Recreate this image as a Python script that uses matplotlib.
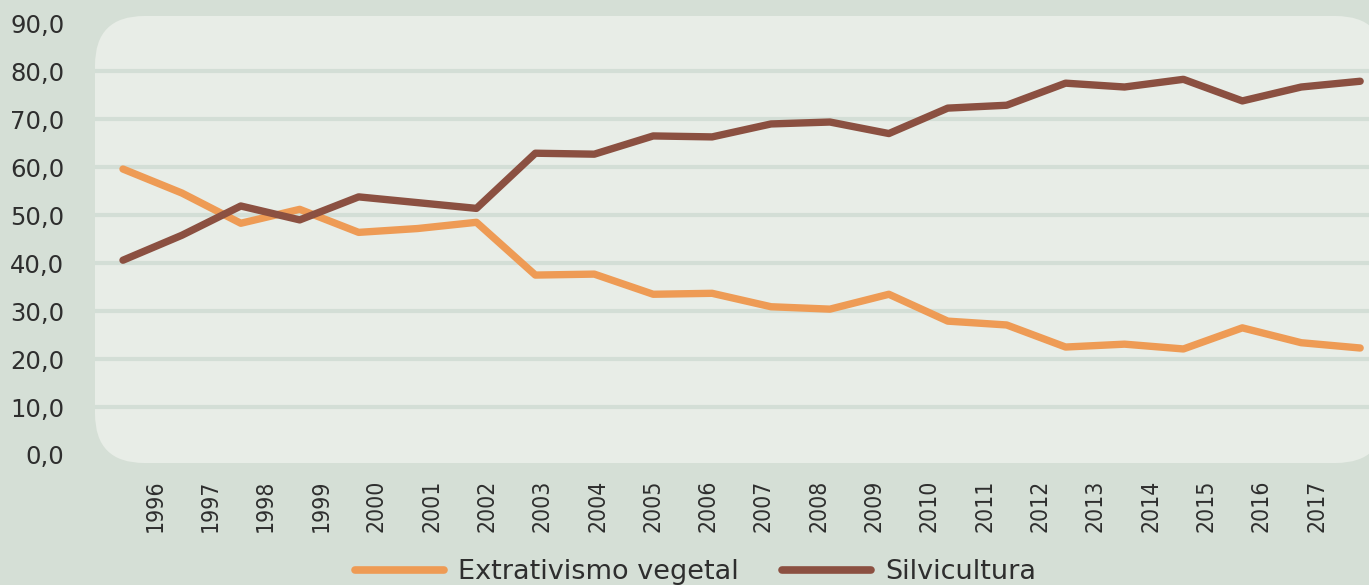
import numpy as np
import matplotlib
matplotlib.use("Agg")
import matplotlib.pyplot as plt
from matplotlib import font_manager
from matplotlib.patches import FancyBboxPatch
from matplotlib.lines import Line2D

# shares (%)
anos = [str(a) for a in range(1996, 2018)]
extrativismo = [59.6, 54.6, 48.3, 51.2, 46.4, 47.2, 48.5, 37.5, 37.7, 33.5, 33.7,
                30.9, 30.4, 33.5, 27.9, 27.1, 22.5, 23.1, 22.1, 26.5, 23.4, 22.3]
silvicultura = [40.6, 45.8, 51.9, 49.0, 53.8, 52.6, 51.4, 62.9, 62.7, 66.5, 66.3,
                69.0, 69.4, 67.0, 72.3, 72.9, 77.5, 76.7, 78.3, 73.8, 76.7, 77.9]
yticks = list(range(0, 100, 10))
gridvals = list(range(10, 90, 10))

c_fig = '#d5dfd6'
c_area = '#e8ede7'
c_grid = '#d3ded6'
c_ext = '#ee9b55'
c_sil = '#8b5041'
c_txt = '#2e2e2e'

# condensed face for the year labels, if there is one
fp_anos = font_manager.FontProperties(family='DejaVu Sans', stretch='condensed', size=16.5)
if 'Condensed' not in font_manager.findfont(fp_anos):
    fp_anos = font_manager.FontProperties(family='Liberation Sans', size=15.5)

W, H = 1369, 585
fig = plt.figure(figsize=(W / 100, H / 100), dpi=100, facecolor=c_fig)

# rounded plot background
x0, x1, y0, y1 = 95, 1385, 16, 463
bg = FancyBboxPatch((x0 / W, 1 - y1 / H), (x1 - x0) / W, (y1 - y0) / H,
                    boxstyle="round,pad=0,rounding_size=0.036",
                    transform=fig.transFigure, facecolor=c_area, edgecolor='none',
                    mutation_aspect=W / H, zorder=-1)
fig.patches.append(bg)

ax = fig.add_axes([x0 / W, 1 - y1 / H, (W - x0) / W, (y1 - y0) / H])
ax.set_zorder(1)
ax.set_facecolor('none')
for s in ax.spines.values():
    s.set_visible(False)

n = len(anos)
xs = np.arange(n)
ax.set_xlim(-0.475, 21.15)
ax.set_ylim(-1.67, 91.5)

ax.hlines(gridvals, -0.475, 21.15, colors=c_grid, linewidth=3, zorder=1)

ax.plot(xs, extrativismo, color=c_ext, lw=5.3, solid_capstyle='round',
        solid_joinstyle='round', zorder=3)
ax.plot(xs, silvicultura, color=c_sil, lw=5.3, solid_capstyle='round',
        solid_joinstyle='round', zorder=4)

ax.set_yticks(yticks)
ax.set_yticklabels(['%d,0' % v for v in yticks], fontsize=17.5,
                   family='DejaVu Sans', color=c_txt)
ax.tick_params(axis='y', length=0, pad=22)

# year labels are spaced a bit tighter than the data points in the original
tickpos = 0.543 + np.arange(n) * 0.939
ax.set_xticks(tickpos)
ax.set_xticklabels(anos, rotation=90, fontproperties=fp_anos, color=c_txt)
ax.tick_params(axis='x', length=0, pad=12)

handles = [Line2D([], [], color=c_ext, lw=5.5, solid_capstyle='round'),
           Line2D([], [], color=c_sil, lw=5.5, solid_capstyle='round')]
fig.legend(handles, ['Extrativismo vegetal', 'Silvicultura'], ncol=2,
           loc='center', bbox_to_anchor=(0.508, 0.022), frameon=False,
           prop={'family': 'DejaVu Sans', 'size': 19.5},
           labelcolor=c_txt, handlelength=3.3, handletextpad=0.5,
           columnspacing=1.6)

fig.savefig('out.png', dpi=100, facecolor=c_fig)
